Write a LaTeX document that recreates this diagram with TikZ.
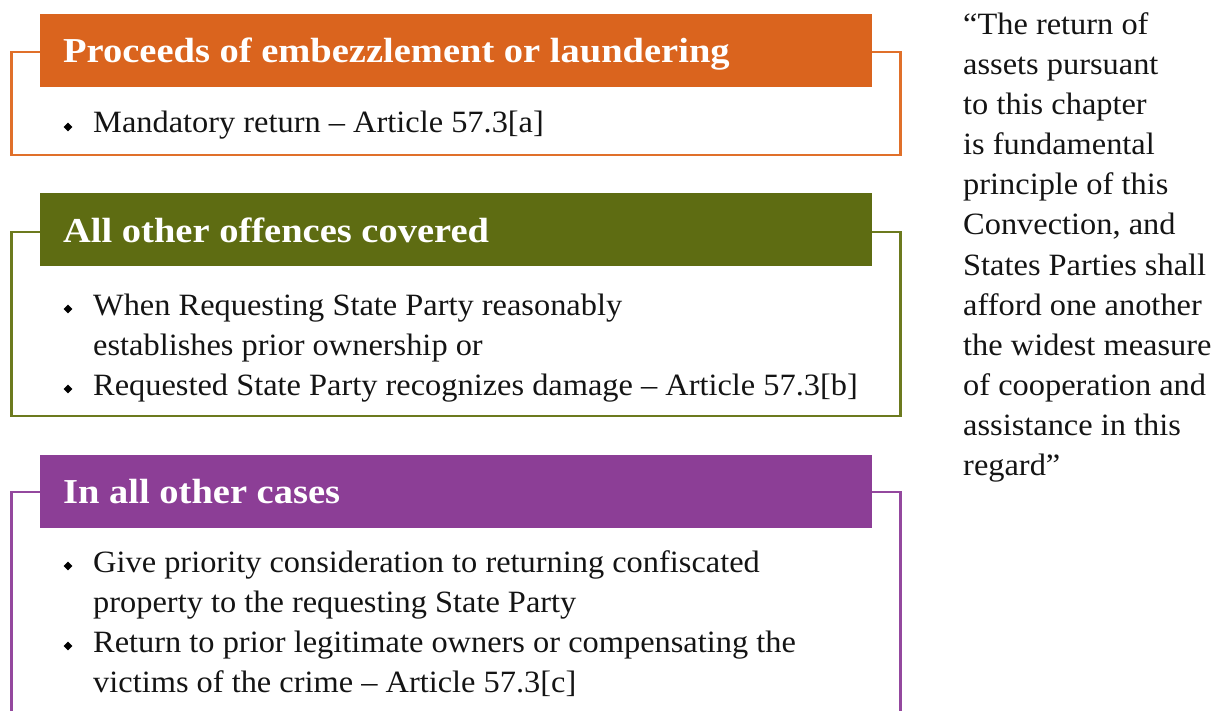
\documentclass[tikz,border=0pt]{standalone}
\usepackage{fontspec}
\setmainfont{Liberation Serif}[FakeStretch=1.045, BoldFeatures={FakeStretch=1.1}]
\usetikzlibrary{shapes.geometric}
\definecolor{orangeC}{RGB}{218,100,30}
\definecolor{orangeL}{RGB}{224,112,42}
\definecolor{greenC}{RGB}{94,108,18}
\definecolor{greenL}{RGB}{108,122,30}
\definecolor{purpleC}{RGB}{140,62,150}
\definecolor{purpleL}{RGB}{148,72,158}
\begin{document}
\begin{tikzpicture}[x=1pt,y=-1pt,
  outl/.style={line width=2.5pt},
  hdr/.style={anchor=north west, inner sep=0pt, minimum width=832pt, minimum height=73pt, draw=none},
  htxt/.style={anchor=base west, inner sep=0pt, text=white, font=\fontsize{35}{40}\selectfont\bfseries},
  txt/.style={anchor=base west, inner sep=0pt, text=black!92, font=\fontsize{31}{40}\selectfont},
  bul/.style={diamond, fill=black, inner sep=0pt, minimum size=9pt}]
\clip (0,0) rectangle (1217,711);
\useasboundingbox (0,0) rectangle (1217,711);
\fill[white] (0,0) rectangle (1217,711);

% box 1
\draw[outl, draw=orangeL] (11.5,52) rectangle (900.5,155);
\node[hdr, fill=orangeC] (h1) at (40,14) {};
\node[htxt] (h1t) at (63,63) {Proceeds of embezzlement or laundering};
\node[bul] (b11) at (68,127) {};
\node[txt] (t11) at (93,133) {Mandatory return – Article 57.3[a]};

% box 2
\draw[outl, draw=greenL] (11.5,232) rectangle (900.5,416);
\node[hdr, fill=greenC] (h2) at (40,193) {};
\node[htxt] (h2t) at (63,243) {All other offences covered};
\node[bul] (b21) at (68,309) {};
\node[txt] (t21) at (93,315) {When Requesting State Party reasonably};
\node[txt] (t22) at (93,355) {establishes prior ownership or};
\node[bul] (b22) at (68,389) {};
\node[txt] (t23) at (93,395) {Requested State Party recognizes damage – Article 57.3[b]};

% box 3
\draw[outl, draw=purpleL] (11.5,492) rectangle (900.5,760);
\node[hdr, fill=purpleC] (h3) at (40,455) {};
\node[htxt] (h3t) at (63,503) {In all other cases};
\node[bul] (b31) at (68,566) {};
\node[txt] (t31) at (93,572) {Give priority consideration to returning confiscated};
\node[txt] (t32) at (93,612) {property to the requesting State Party};
\node[bul] (b32) at (68,646) {};
\node[txt] (t33) at (93,652) {Return to prior legitimate owners or compensating the};
\node[txt] (t34) at (93,692) {victims of the crime – Article 57.3[c]};

% quote
\foreach \l [count=\i] in {{“The return of},{assets pursuant},{to this chapter},{is fundamental},{principle of this},{Convection, and},{States Parties shall},{afford one another},{the widest measure},{of cooperation and},{assistance in this},{regard”}}
  \node[txt] (q\i) at (963,{35+40*(\i-1)}) {\l};
\end{tikzpicture}
\end{document}
